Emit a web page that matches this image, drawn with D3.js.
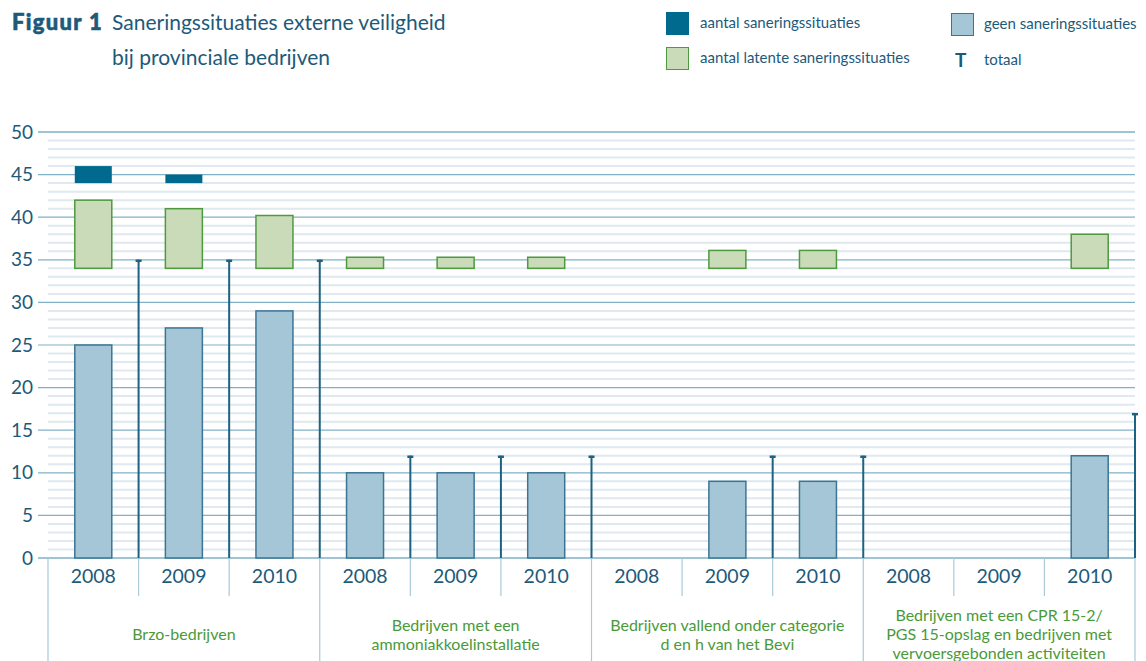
<!DOCTYPE html>
<html>
<head>
<meta charset="utf-8">
<script src="https://cdn.jsdelivr.net/npm/d3@7"></script>
<style>
  body { margin: 0; background: #fff; }
  svg { display: block; font-family: Lato, 'Open Sans', sans-serif; }
</style>
</head>
<body>
<div id="chart"></div>
<script>
// data
const years = ['2008', '2009', '2010'];
const groups = [
  ['Brzo-bedrijven'],
  ['Bedrijven met een', 'ammoniakkoelinstallatie'],
  ['Bedrijven vallend onder categorie', 'd en h van het Bevi'],
  ['Bedrijven met een CPR 15-2/', 'PGS 15-opslag en bedrijven met', 'vervoersgebonden activiteiten']
];
// one value per group/year slot (4 groups x 3 years)
const geen = [25, 27, 29, 10, 10, 10, 0, 9, 9, 0, 0, 12];
const latent = [8, 7, 6.2, 1.3, 1.3, 1.3, 0, 2.1, 2.1, 0, 0, 4];
const sanering = [2, 1, 0, 0, 0, 0, 0, 0, 0, 0, 0, 0];
const totaal = [35, 35, 35, 12, 12, 12, 0, 12, 12, 0, 0, 17];
// broken-axis offsets where the latent and sanering boxes start
const latentBase = 34;
const saneringBase = 44;
const yTicks = [0, 5, 10, 15, 20, 25, 30, 35, 40, 45, 50];

const C = {
  text: '#1d5a7a',
  dark: '#006a8e',
  light: '#a5c6d6',
  lightStroke: '#3c7594',
  green: '#c9dbb9',
  greenStroke: '#4e9a3e',
  greenText: '#4a9a3a',
  major: '#7fb1c9',
  minor: '#dfe9ef',
  sep: '#a9c9d9',
  tot: '#1d6283'
};

const W = 1146, H = 661;
const svg = d3.select('#chart').append('svg').attr('width', W).attr('height', H);

const slots = d3.range(groups.length * years.length);
const x = d3.scaleBand().domain(slots).range([48, 1135]).padding(0);
const y = d3.scaleLinear().domain([0, 50]).range([558, 132]);
const barW = 37;

// title
svg.append('text').attr('x', 12).attr('y', 30)
  .attr('fill', C.text).attr('font-weight', 900)
  .attr('stroke', C.text).attr('stroke-width', 0.6)
  .style('font-size', '22px').style('letter-spacing', '1.3px').text('Figuur 1');
svg.append('text').attr('x', 112).attr('y', 30).attr('fill', C.text)
  .style('font-size', '21px').text('Saneringssituaties externe veiligheid');
svg.append('text').attr('x', 112).attr('y', 65).attr('fill', C.text)
  .style('font-size', '21px').text('bij provinciale bedrijven');

// legend
const legend = [
  { x: 666, y: 12, fill: C.dark, stroke: C.dark, label: 'aantal saneringssituaties' },
  { x: 666, y: 47, fill: C.green, stroke: C.greenStroke, label: 'aantal latente saneringssituaties' },
  { x: 951, y: 13, fill: C.light, stroke: C.lightStroke, label: 'geen saneringssituaties' }
];
const lg = svg.append('g').selectAll('g').data(legend).join('g');
lg.append('rect').attr('x', d => d.x + 0.5).attr('y', d => d.y + 0.5)
  .attr('width', 22).attr('height', 22)
  .attr('fill', d => d.fill).attr('stroke', d => d.stroke);
lg.append('text').attr('x', d => d.x + (d.x > 900 ? 33 : 34)).attr('y', d => d.y + 16)
  .attr('fill', C.text).style('font-size', '15px').text(d => d.label);
svg.append('text').attr('x', 955).attr('y', 67).attr('fill', C.text)
  .attr('font-weight', 'bold').style('font-size', '19px').text('T');
svg.append('text').attr('x', 984).attr('y', 65).attr('fill', C.text)
  .style('font-size', '15px').text('totaal');

// grid
const minor = d3.range(1, 51).filter(v => v % 5 !== 0);
svg.append('g').selectAll('line').data(minor).join('line')
  .attr('x1', 48).attr('x2', 1135)
  .attr('y1', d => y(d)).attr('y2', d => y(d))
  .attr('stroke', C.minor).attr('stroke-width', 2);
svg.append('g').selectAll('line').data(yTicks).join('line')
  .attr('x1', 38).attr('x2', 1135)
  .attr('y1', d => y(d)).attr('y2', d => y(d))
  .attr('stroke', C.major).attr('stroke-width', d => d === 0 || d === 50 ? 1.5 : 1.2);

// y labels
svg.append('g').selectAll('text').data(yTicks).join('text')
  .attr('x', 33).attr('y', d => y(d)).attr('dy', '0.35em')
  .attr('text-anchor', 'end').attr('fill', C.text)
  .style('font-size', '19px').text(d => d);

// bars: geen
svg.append('g').selectAll('rect').data(slots.filter(i => geen[i] > 0)).join('rect')
  .attr('x', i => x(i) + x.bandwidth() / 2 - barW / 2)
  .attr('width', barW)
  .attr('y', i => y(geen[i]))
  .attr('height', i => y(0) - y(geen[i]))
  .attr('fill', C.light).attr('stroke', C.lightStroke).attr('stroke-width', 1.5);

// latent boxes
svg.append('g').selectAll('rect').data(slots.filter(i => latent[i] > 0)).join('rect')
  .attr('x', i => x(i) + x.bandwidth() / 2 - barW / 2)
  .attr('width', barW)
  .attr('y', i => y(latentBase + latent[i]))
  .attr('height', i => y(latentBase) - y(latentBase + latent[i]))
  .attr('fill', C.green).attr('stroke', C.greenStroke).attr('stroke-width', 1.5);

// sanering boxes
svg.append('g').selectAll('rect').data(slots.filter(i => sanering[i] > 0)).join('rect')
  .attr('x', i => x(i) + x.bandwidth() / 2 - barW / 2)
  .attr('width', barW)
  .attr('y', i => y(saneringBase + sanering[i]))
  .attr('height', i => y(saneringBase) - y(saneringBase + sanering[i]))
  .attr('fill', C.dark);

// totaal markers at the right edge of each slot
const tg = svg.append('g').selectAll('g').data(slots.filter(i => totaal[i] > 0)).join('g')
  .attr('transform', i => `translate(${x(i) + x.bandwidth()},0)`);
tg.append('line').attr('y1', y(0)).attr('y2', i => y(totaal[i]))
  .attr('stroke', C.tot).attr('stroke-width', 2);
tg.append('line').attr('x1', -3).attr('x2', 3)
  .attr('y1', i => y(totaal[i]) + 1).attr('y2', i => y(totaal[i]) + 1)
  .attr('stroke', C.tot).attr('stroke-width', 2.5);

// bottom: year labels and separators
svg.append('g').selectAll('text').data(slots).join('text')
  .attr('x', i => x(i) + x.bandwidth() / 2).attr('y', 583)
  .attr('text-anchor', 'middle').attr('fill', C.text)
  .style('font-size', '19.5px').text(i => years[i % 3]);
svg.append('g').selectAll('line').data(slots.filter(i => i % 3 !== 0)).join('line')
  .attr('x1', i => x(i)).attr('x2', i => x(i))
  .attr('y1', 558).attr('y2', 596)
  .attr('stroke', C.sep).attr('stroke-width', 1.2);
const groupEdges = d3.range(groups.length + 1).map(g => g * 3);
svg.append('g').selectAll('line').data(groupEdges).join('line')
  .attr('x1', i => i < slots.length ? x(i) : x.range()[1])
  .attr('x2', i => i < slots.length ? x(i) : x.range()[1])
  .attr('y1', 558).attr('y2', H)
  .attr('stroke', C.sep).attr('stroke-width', 1.2);

// group labels
const gl = svg.append('g').selectAll('text').data(groups).join('text')
  .attr('text-anchor', 'middle').attr('fill', C.greenText).style('font-size', '16px');
gl.each(function (lines, g) {
  const cx = (x(g * 3) + x(g * 3 + 2) + x.bandwidth()) / 2;
  const top = 640 - (lines.length - 1) * 9.5;
  d3.select(this).selectAll('tspan').data(lines).join('tspan')
    .attr('x', cx).attr('y', (d, k) => top + k * 19).text(d => d);
});
</script>
</body>
</html>
